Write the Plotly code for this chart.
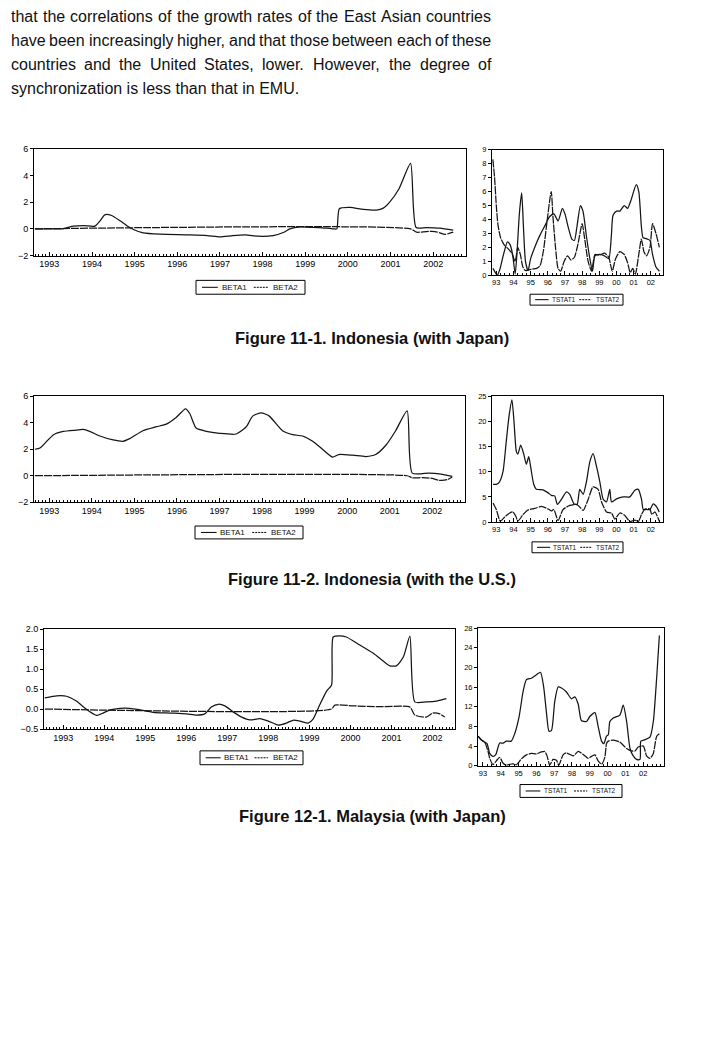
import plotly.graph_objects as go

W, H = 722, 1055

# ---------------- text ----------------
PARA_LINES = [
    "that the correlations of the growth rates of the East Asian countries",
    "have been increasingly higher, and that those between each of these",
    "countries and the United States, lower. However, the degree of",
    "synchronization is less than that in EMU.",
]
CAPTIONS = [
    "Figure 11-1. Indonesia (with Japan)",
    "Figure 11-2. Indonesia (with the U.S.)",
    "Figure 12-1. Malaysia (with Japan)",
]
YEARS = [1993, 1994, 1995, 1996, 1997, 1998, 1999, 2000, 2001, 2002]
YEAR_LABELS_LONG = ["1993", "1994", "1995", "1996", "1997", "1998", "1999", "2000", "2001", "2002"]
YEAR_LABELS_SHORT = ["93", "94", "95", "96", "97", "98", "99", "00", "01", "02"]
BETA_NAMES = ["BETA1", "BETA2"]
TSTAT_NAMES = ["TSTAT1", "TSTAT2"]

# ---------------- data: Figure 11-1 Indonesia (with Japan) ----------------
ID_JP_BETA1_X = [1992.66, 1993.33, 1993.56, 1993.8, 1994.07, 1994.19, 1994.3, 1994.46, 1994.66, 1994.81,
                 1994.97, 1995.2, 1995.6, 1996.2, 1996.7, 1997.0, 1997.3, 1997.6, 1997.9, 1998.25,
                 1998.5, 1998.64, 1998.88, 1999.1, 1999.34, 1999.66, 1999.74, 1999.8, 2000.05, 2000.36,
                 2000.67, 2000.83, 2000.98, 2001.2, 2001.47, 2001.6, 2001.84, 2002.16, 2002.47]
ID_JP_BETA1 = [0.0, 0.02, 0.2, 0.25, 0.2, 0.6, 1.05, 1.0, 0.6, 0.25,
               -0.05, -0.3, -0.4, -0.45, -0.5, -0.6, -0.5, -0.45, -0.55, -0.5,
               -0.25, 0.0, 0.15, 0.12, 0.1, 0.0, 0.0, 1.5, 1.6, 1.45,
               1.4, 1.55, 2.0, 3.0, 4.9, 0.1, 0.1, 0.05, -0.1]
ID_JP_BETA2_X = [1992.66, 2001.47, 2001.61, 2001.84, 2002.04, 2002.16, 2002.27, 2002.47]
ID_JP_BETA2 = [0.0, 0.0, -0.25, -0.2, -0.2, -0.3, -0.42, -0.25]

ID_JP_TSTAT1_X = [1992.8, 1992.95, 1993.05, 1993.2, 1993.4, 1993.65, 1993.8, 1993.95, 1994.1, 1994.2,
                  1994.35, 1994.48, 1994.58, 1994.7, 1994.85, 1995.0, 1995.3, 1995.55, 1995.85, 1996.1,
                  1996.35, 1996.6, 1996.85, 1997.0, 1997.2, 1997.4, 1997.55, 1997.7, 1997.9, 1998.05,
                  1998.25, 1998.45, 1998.6, 1998.75, 1999.0, 1999.3, 1999.55, 1999.7, 1999.8, 2000.0,
                  2000.2, 2000.45, 2000.65, 2000.85, 2001.15, 2001.3, 2001.45, 2001.55, 2001.8, 2001.95,
                  2002.1, 2002.3, 2002.5]
ID_JP_TSTAT1 = [0.5, 0.2, 0.0, 0.4, 1.4, 2.4, 2.2, 1.5, 0.1, 1.5,
                4.5, 5.9, 3.5, 1.0, 0.35, 1.2, 2.2, 2.9, 3.6, 4.2,
                4.4, 3.9, 4.8, 4.4, 3.4, 2.6, 2.5, 3.5, 5.0, 4.6,
                2.8, 1.2, 0.3, 1.4, 1.5, 1.4, 1.2, 2.8, 4.3, 4.6,
                4.6, 5.0, 4.8, 5.4, 6.5, 6.0, 3.5, 2.7, 2.6, 2.5,
                1.5, 0.6, 0.3]
ID_JP_TSTAT2_X = [1992.8, 1992.9, 1993.0, 1993.1, 1993.25, 1993.45, 1993.7, 1993.9, 1994.1, 1994.25,
                  1994.4, 1994.55, 1994.7, 1994.9, 1995.1, 1995.35, 1995.55, 1995.75, 1995.95, 1996.2,
                  1996.3, 1996.45, 1996.6, 1996.75, 1996.95, 1997.15, 1997.35, 1997.55, 1997.75, 1998.0,
                  1998.15, 1998.35, 1998.55, 1998.75, 1999.0, 1999.3, 1999.55, 1999.75, 1999.95, 2000.2,
                  2000.45, 2000.65, 2000.8, 2000.95, 2001.1, 2001.3, 2001.45, 2001.6, 2001.75, 2001.95,
                  2002.1, 2002.3, 2002.5]
ID_JP_TSTAT2 = [8.3, 7.0, 5.0, 3.6, 2.7, 2.2, 1.9, 1.6, 1.0, 2.0,
                1.5, 0.6, 0.35, 0.4, 0.45, 0.5, 0.7, 1.8, 3.8, 6.0,
                4.2, 2.0, 0.5, 0.3, 1.0, 1.4, 1.1, 1.3, 2.2, 3.7,
                2.6, 1.0, 0.3, 1.5, 1.45, 1.6, 1.3, 0.3, 1.2, 1.7,
                1.5, 0.9, 0.2, 0.5, 0.1, 1.5, 2.6, 1.7, 1.4, 2.0,
                3.7, 3.0, 2.0]

# ---------------- data: Figure 11-2 Indonesia (with the U.S.) ----------------
ID_US_BETA1_X = [1992.66, 1992.78, 1992.94, 1993.1, 1993.33, 1993.64, 1993.8, 1993.95, 1994.19, 1994.5,
                 1994.73, 1994.89, 1995.2, 1995.52, 1995.75, 1995.98, 1996.2, 1996.3, 1996.45, 1996.69,
                 1997.0, 1997.39, 1997.63, 1997.78, 1997.98, 1998.17, 1998.48, 1998.72, 1998.95, 1999.19,
                 1999.42, 1999.66, 1999.8, 2000.13, 2000.44, 2000.67, 2000.91, 2001.14, 2001.41, 2001.53,
                 2001.92, 2002.16, 2002.47]
ID_US_BETA1 = [2.0, 2.1, 2.6, 3.1, 3.35, 3.45, 3.5, 3.35, 3.0, 2.7,
               2.6, 2.8, 3.4, 3.7, 3.9, 4.4, 5.05, 4.7, 3.6, 3.35,
               3.2, 3.15, 3.7, 4.5, 4.75, 4.5, 3.4, 3.1, 3.0, 2.6,
               2.0, 1.4, 1.6, 1.55, 1.45, 1.6, 2.3, 3.4, 4.9, 0.2,
               0.2, 0.15, -0.05]
ID_US_BETA2_X = [1992.66, 2001.41, 2001.53, 2001.77, 2002.0, 2002.16, 2002.35, 2002.47]
ID_US_BETA2 = [0.0, 0.0, -0.15, -0.15, -0.2, -0.35, -0.3, -0.1]

ID_US_TSTAT1_X = [1992.81, 1993.0, 1993.19, 1993.39, 1993.58, 1993.74, 1993.91, 1994.03, 1994.17, 1994.26,
                  1994.42, 1994.6, 1994.75, 1994.89, 1995.0, 1995.18, 1995.33, 1995.72, 1996.02, 1996.21,
                  1996.4, 1996.56, 1996.79, 1997.09, 1997.28, 1997.53, 1997.71, 1997.86, 1998.06, 1998.25,
                  1998.45, 1998.64, 1998.84, 1999.03, 1999.23, 1999.42, 1999.61, 1999.71, 2000.0, 2000.39,
                  2000.78, 2001.07, 2001.27, 2001.46, 2001.56, 2001.75, 2001.95, 2002.14, 2002.34, 2002.49]
ID_US_TSTAT1 = [7.5, 7.5, 8.0, 10.0, 16.0, 21.0, 24.3, 20.0, 14.0, 13.5,
                15.3, 13.5, 11.5, 13.0, 11.0, 7.5, 6.5, 6.4, 5.8, 5.3,
                5.2, 3.5, 4.5, 6.0, 5.5, 3.6, 3.5, 6.5, 5.5, 8.0,
                12.0, 13.6, 11.0, 8.0, 4.5, 4.0, 6.5, 4.0, 4.6, 5.0,
                5.0, 6.3, 6.5, 4.5, 2.5, 2.5, 2.5, 3.6, 3.0, 2.0]
ID_US_TSTAT2_X = [1992.81, 1993.0, 1993.23, 1993.49, 1993.78, 1993.97, 1994.13, 1994.26, 1994.56, 1994.85,
                  1995.24, 1995.63, 1996.02, 1996.21, 1996.35, 1996.6, 1996.89, 1997.28, 1997.67, 1997.86,
                  1998.06, 1998.35, 1998.64, 1998.93, 1999.13, 1999.42, 1999.71, 1999.9, 2000.2, 2000.49,
                  2000.78, 2001.07, 2001.27, 2001.46, 2001.66, 2001.95, 2002.05, 2002.24, 2002.49]
ID_US_TSTAT2 = [3.8, 2.5, 0.2, 1.0, 1.8, 2.0, 1.2, 0.2, 1.5, 2.4,
                2.7, 3.1, 2.6, 2.2, 2.5, 0.3, 2.5, 3.3, 3.5, 3.0,
                2.3, 4.5, 7.0, 6.5, 4.0, 2.0, 1.8, 0.6, 1.8, 1.3,
                0.1, 0.4, 0.1, 1.5, 2.6, 2.6, 1.5, 2.0, 0.2]

# ---------------- data: Figure 12-1 Malaysia (with Japan) ----------------
MY_JP_BETA1_X = [1992.55, 1992.84, 1993.08, 1993.32, 1993.53, 1993.73, 1993.81, 1993.97, 1994.14, 1994.38,
                 1994.62, 1994.87, 1995.19, 1995.6, 1996.0, 1996.25, 1996.45, 1996.61, 1996.78, 1996.94,
                 1997.14, 1997.35, 1997.55, 1997.79, 1998.0, 1998.24, 1998.44, 1998.6, 1998.77, 1998.97,
                 1999.09, 1999.25, 1999.42, 1999.54, 1999.58, 1999.74, 1999.9, 2000.23, 2000.55, 2000.8,
                 2000.96, 2001.12, 2001.29, 2001.45, 2001.57, 2001.85, 2002.1, 2002.26, 2002.34]
MY_JP_BETA1 = [0.28, 0.33, 0.32, 0.2, 0.02, -0.12, -0.16, -0.1, -0.02, 0.02,
               0.02, -0.02, -0.08, -0.1, -0.12, -0.15, -0.12, 0.05, 0.12, 0.08,
               -0.07, -0.2, -0.27, -0.24, -0.3, -0.4, -0.35, -0.28, -0.3, -0.35,
               -0.25, 0.1, 0.45, 0.6, 1.8, 1.83, 1.8, 1.6, 1.4, 1.2,
               1.08, 1.08, 1.3, 1.82, 0.18, 0.18, 0.2, 0.24, 0.26]
MY_JP_BETA2_X = [1992.55, 1999.54, 1999.62, 2000.07, 2000.72, 2001.45, 2001.57, 2001.85, 2002.01, 2002.18, 2002.3]
MY_JP_BETA2 = [0.0, 0.0, 0.1, 0.08, 0.06, 0.05, -0.15, -0.2, -0.1, -0.12, -0.2]

MY_JP_TSTAT1_X = [1992.72, 1992.91, 1993.09, 1993.23, 1993.38, 1993.56, 1993.71, 1993.94, 1994.13, 1994.31,
                  1994.59, 1994.78, 1995.03, 1995.25, 1995.44, 1995.72, 1996.0, 1996.23, 1996.41, 1996.56,
                  1996.71, 1996.85, 1997.03, 1997.22, 1997.41, 1997.69, 1997.97, 1998.16, 1998.35, 1998.53,
                  1998.82, 1999.0, 1999.29, 1999.47, 1999.66, 1999.79, 1999.94, 2000.04, 2000.13, 2000.32,
                  2000.69, 2000.88, 2001.07, 2001.26, 2001.44, 2001.63, 2001.82, 2001.87, 2002.1, 2002.38,
                  2002.57, 2002.76, 2002.91]
MY_JP_TSTAT1 = [6.0, 5.3, 4.8, 4.5, 2.5, 1.9, 2.2, 4.6, 4.6, 5.0,
                5.0, 6.5, 10.0, 15.0, 17.5, 17.8, 18.5, 19.0, 16.0, 11.0,
                7.0, 7.2, 13.0, 16.0, 15.8, 15.0, 13.6, 14.0, 12.5, 9.2,
                9.0, 10.0, 10.8, 8.0, 5.0, 4.5, 6.0, 6.3, 9.0, 9.7,
                10.3, 12.3, 9.0, 3.5, 2.0, 1.3, 1.3, 5.0, 5.3, 5.8,
                9.0, 18.0, 26.5]
MY_JP_TSTAT2_X = [1992.72, 1992.91, 1993.09, 1993.28, 1993.38, 1993.56, 1993.75, 1993.94, 1994.13, 1994.31,
                  1994.5, 1994.69, 1994.88, 1995.16, 1995.44, 1995.72, 1996.0, 1996.28, 1996.47, 1996.6,
                  1996.75, 1996.94, 1997.13, 1997.26, 1997.5, 1997.69, 1998.07, 1998.35, 1998.63, 1998.91,
                  1999.1, 1999.29, 1999.47, 1999.66, 1999.85, 1999.94, 2000.04, 2000.32, 2000.69, 2001.07,
                  2001.35, 2001.54, 2001.72, 2002.01, 2002.19, 2002.38, 2002.57, 2002.76, 2002.91]
MY_JP_TSTAT2 = [6.0, 5.2, 4.8, 3.0, 1.5, 0.2, 1.0, 1.7, 0.5, 0.1,
                0.3, 0.4, 0.2, 1.4, 2.2, 2.5, 2.4, 2.8, 2.9, 2.0,
                0.1, 1.3, 1.1, 0.1, 2.2, 2.6, 2.0, 2.9, 2.3, 1.5,
                1.9, 2.2, 1.0, 0.3, 1.8, 4.5, 5.0, 5.2, 4.8, 3.5,
                3.0, 3.0, 3.8, 4.0, 2.0, 1.5, 2.5, 6.0, 6.5]

# ---------------- helpers ----------------
FONT = "Arial, Liberation Sans, sans-serif"
INK = "#111111"


def px(x):
    return x / W


def py(y):
    return 1 - y / H


ARIAL_W = {' ': 278, 'a': 556, 'b': 556, 'c': 500, 'd': 556, 'e': 556, 'f': 278, 'g': 556, 'h': 556,
           'i': 222, 'j': 222, 'k': 500, 'l': 222, 'm': 833, 'n': 556, 'o': 556, 'p': 556, 'q': 556,
           'r': 333, 's': 500, 't': 278, 'u': 556, 'v': 500, 'w': 722, 'x': 500, 'y': 500, 'z': 500,
           'A': 667, 'E': 667, 'H': 722, 'M': 833, 'S': 667, 'U': 722, ',': 278, '.': 278}


def text_width(s, size):
    return sum(ARIAL_W.get(c, 556) for c in s) / 1000.0 * size


fig = go.Figure()
annotations = []
shapes = []

# paragraph (justified lines 1-3)
PARA_SIZE = 16
PARA_LEFT, PARA_RIGHT = 10, 490
PARA_Y = [12, 36, 60, 84]
for i, line in enumerate(PARA_LINES):
    if i < 3:
        words = line.split(" ")
        total = sum(text_width(w, PARA_SIZE) for w in words)
        gap = (PARA_RIGHT - PARA_LEFT - total) / (len(words) - 1)
        x = PARA_LEFT
        for w in words:
            annotations.append(dict(x=px(x), y=py(PARA_Y[i]), xref="paper", yref="paper", text=w,
                                    showarrow=False, xanchor="left", yanchor="middle", borderpad=0,
                                    font=dict(family=FONT, size=PARA_SIZE, color=INK)))
            x += text_width(w, PARA_SIZE) + gap
    else:
        annotations.append(dict(x=px(PARA_LEFT), y=py(PARA_Y[i]), xref="paper", yref="paper", text=line,
                                showarrow=False, xanchor="left", yanchor="middle", borderpad=0,
                                font=dict(family=FONT, size=PARA_SIZE, color=INK)))

# captions
CAP_Y = [336, 579, 819]
for cap, cy in zip(CAPTIONS, CAP_Y):
    annotations.append(dict(x=px(372), y=py(cy), xref="paper", yref="paper", text="<b>" + cap + "</b>",
                            showarrow=False, xanchor="center", yanchor="middle",
                            font=dict(family=FONT, size=16.5, color=INK)))

# panels: (x0, x1, y_top, y_bottom) in pixels, x-range, y-range, y ticks
PANELS = [
    dict(box=(34, 466, 145, 253), xr=(1992.64, 2002.77), yr=(-2, 6), yt=[-2, 0, 2, 4, 6], fmt="d", long=True,
         series=[(ID_JP_BETA1_X, ID_JP_BETA1), (ID_JP_BETA2_X, ID_JP_BETA2)], legend=(196, 305, 278, 292),
         names=BETA_NAMES),
    dict(box=(492, 663, 146, 273), xr=(1992.75, 2002.71), yr=(0, 9), yt=list(range(0, 10)), fmt="d", long=False,
         series=[(ID_JP_TSTAT1_X, ID_JP_TSTAT1), (ID_JP_TSTAT2_X, ID_JP_TSTAT2)], legend=(530, 623, 292, 303),
         names=TSTAT_NAMES),
    dict(box=(34, 465, 395, 502), xr=(1992.64, 2002.77), yr=(-2, 6), yt=[-2, 0, 2, 4, 6], fmt="d", long=True,
         series=[(ID_US_BETA1_X, ID_US_BETA1), (ID_US_BETA2_X, ID_US_BETA2)], legend=(195, 303, 526, 539),
         names=BETA_NAMES),
    dict(box=(492, 663, 395, 522), xr=(1992.75, 2002.71), yr=(0, 25), yt=[0, 5, 10, 15, 20, 25], fmt="d",
         long=False, series=[(ID_US_TSTAT1_X, ID_US_TSTAT1), (ID_US_TSTAT2_X, ID_US_TSTAT2)],
         legend=(532, 623, 542, 553), names=TSTAT_NAMES),
    dict(box=(44, 455, 630, 731), xr=(1992.53, 2002.55), yr=(-0.5, 2.0), yt=[-0.5, 0, 0.5, 1.0, 1.5, 2.0],
         fmt=".1f", long=True, series=[(MY_JP_BETA1_X, MY_JP_BETA1), (MY_JP_BETA2_X, MY_JP_BETA2)],
         legend=(200, 303, 753, 767), names=BETA_NAMES),
    dict(box=(478, 664, 629, 768), xr=(1992.72, 2003.17), yr=(0, 28), yt=[0, 4, 8, 12, 16, 20, 24, 28],
         fmt="d", long=False, series=[(MY_JP_TSTAT1_X, MY_JP_TSTAT1), (MY_JP_TSTAT2_X, MY_JP_TSTAT2)],
         legend=(520, 622, 787, 800), names=TSTAT_NAMES),
]

layout_axes = {}
for i, p in enumerate(PANELS):
    n = i + 1
    xa = "xaxis" if n == 1 else "xaxis%d" % n
    ya = "yaxis" if n == 1 else "yaxis%d" % n
    xref = "x" if n == 1 else "x%d" % n
    yref = "y" if n == 1 else "y%d" % n
    x0, x1, yt, yb = p["box"]
    fs = 9 if p["long"] else 7.5
    layout_axes[xa] = dict(
        domain=[px(x0), px(x1)], anchor=yref, range=list(p["xr"]),
        tickmode="array", tickvals=YEARS,
        ticktext=YEAR_LABELS_LONG if p["long"] else YEAR_LABELS_SHORT,
        ticks="inside", ticklen=4, tickwidth=1, tickcolor="black",
        minor=dict(tickmode="linear", tick0=1993, dtick=(1 / 12 if p["long"] else 0.25),
                   ticks="inside", ticklen=2, tickcolor="black", tickwidth=1),
        showline=True, linecolor="black", linewidth=1, mirror=True,
        showgrid=False, zeroline=False,
        tickfont=dict(family=FONT, size=fs, color="black"),
    )
    layout_axes[ya] = dict(
        domain=[py(yb), py(yt)], anchor=xref, range=list(p["yr"]),
        tickmode="array", tickvals=p["yt"], tickformat=p["fmt"],
        ticks="outside", ticklen=3, tickwidth=1, tickcolor="black",
        showline=True, linecolor="black", linewidth=1, mirror=True,
        showgrid=False, zeroline=False,
        tickfont=dict(family=FONT, size=fs, color="black"),
    )
    for k, (sx, sy) in enumerate(p["series"]):
        fig.add_trace(go.Scatter(
            x=sx, y=sy, xaxis=xref, yaxis=yref, mode="lines",
            line=dict(color="#151515", width=1.25, shape="spline", smoothing=0.6,
                      dash="solid" if k == 0 else "8px,1px"),
            name=p["names"][k], showlegend=False, hoverinfo="skip"))

    # legend box (EViews style)
    lx0, lx1, ly0, ly1 = p["legend"]
    lw = lx1 - lx0
    lfs = 8 if p["long"] else 6.5
    ymid = (ly0 + ly1) / 2
    shapes.append(dict(type="rect", xref="paper", yref="paper", x0=px(lx0), x1=px(lx1), y0=py(ly1), y1=py(ly0),
                       line=dict(color="black", width=1), fillcolor="white", layer="above"))
    shapes.append(dict(type="line", xref="paper", yref="paper", x0=px(lx0 + 0.055 * lw), x1=px(lx0 + 0.2 * lw),
                       y0=py(ymid), y1=py(ymid), line=dict(color="black", width=1)))
    shapes.append(dict(type="line", xref="paper", yref="paper", x0=px(lx0 + 0.53 * lw), x1=px(lx0 + 0.66 * lw),
                       y0=py(ymid), y1=py(ymid), line=dict(color="black", width=1, dash="2px,1px")))
    for name, frac in zip(p["names"], [0.225, 0.695]):
        annotations.append(dict(x=px(lx0 + frac * lw), y=py(ymid), xref="paper", yref="paper", text=name,
                                showarrow=False, xanchor="left", yanchor="middle", borderpad=0,
                                font=dict(family=FONT, size=lfs, color=INK)))

fig.update_layout(
    width=W, height=H, margin=dict(l=0, r=0, t=0, b=0),
    paper_bgcolor="white", plot_bgcolor="white", showlegend=False,
    annotations=annotations, shapes=shapes, **layout_axes)

fig.write_html("out.html")
